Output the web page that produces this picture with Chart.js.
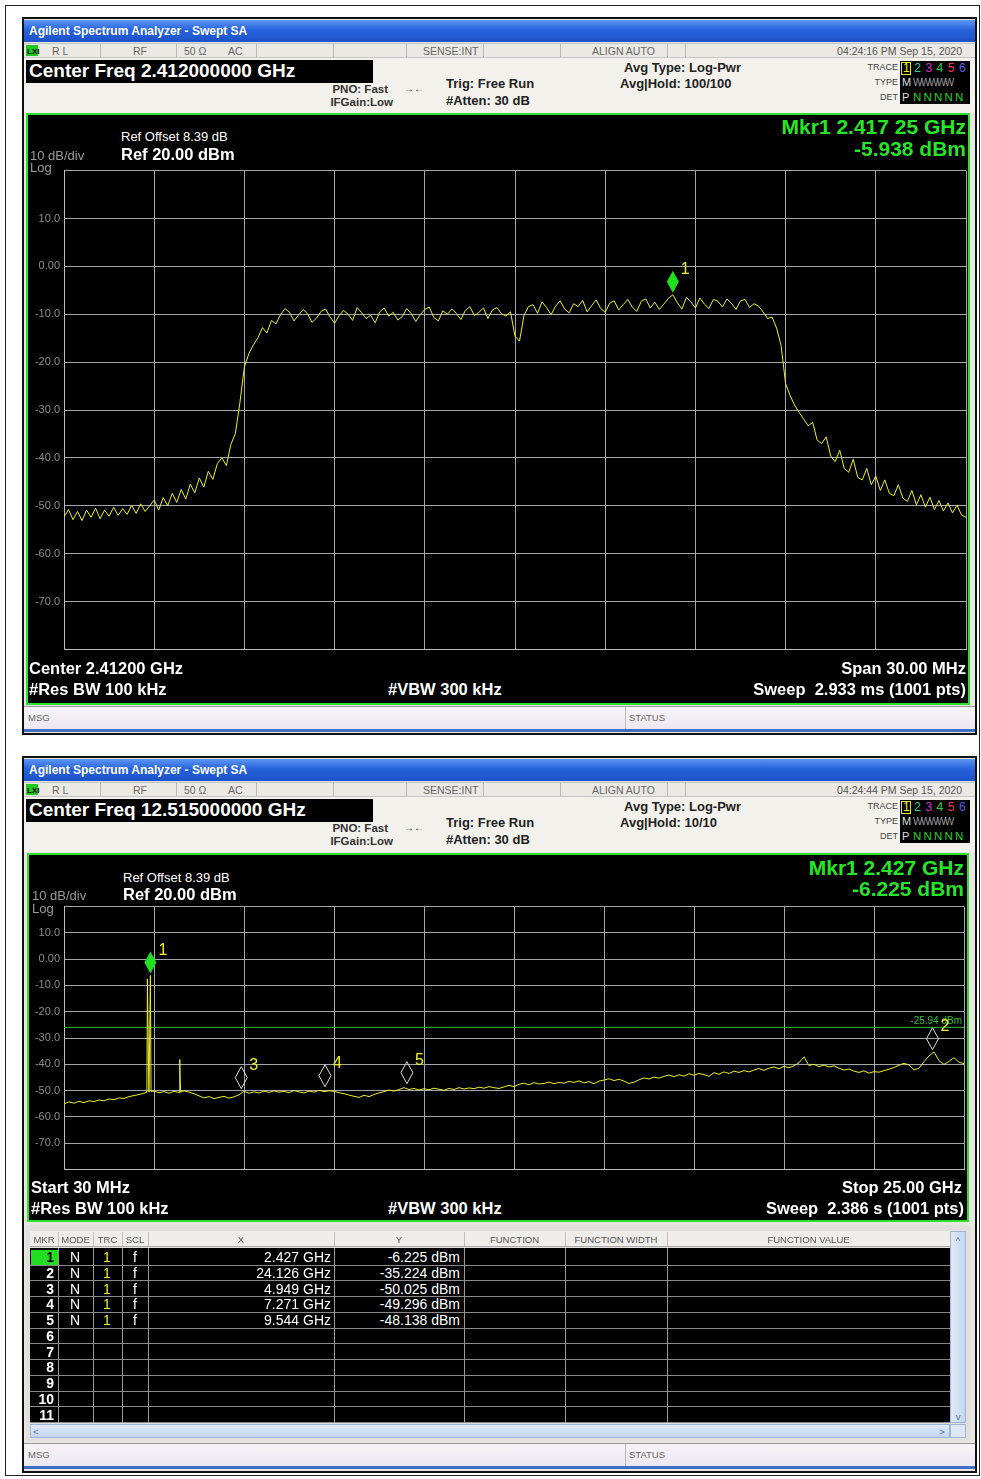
<!DOCTYPE html>
<html>
<head>
<meta charset="utf-8">
<script src="https://cdn.jsdelivr.net/npm/chart.js@4.4.1/dist/chart.umd.min.js"></script>
<style>
body { margin:0; background:#fff; }
#page { position:relative; width:981px; height:1479px; overflow:hidden; font-family:"Liberation Sans Narrow","Arial Narrow","Liberation Sans",sans-serif; }
.abs { position:absolute; white-space:nowrap; box-sizing:border-box; }
.ttl { font-size:12px; font-weight:bold; color:#fff; }
.st { font-size:10.5px; color:#666; }
.cf { font-size:19px; font-weight:bold; color:#fff; }
.inf { font-size:13px; font-weight:bold; color:#222; }
.inf2 { font-size:11.5px; font-weight:bold; color:#333; }
.sm { font-size:9px; color:#444; }
.wt { font-size:13px; color:#fff; }
.wb { font-size:16.5px; font-weight:bold; color:#fff; }
.gy { font-size:13px; color:#9a9a9a; }
.mk { font-size:21px; font-weight:bold; color:#27e627; }
.th { font-size:9.5px; color:#555; }
.tb { font-size:14px; color:#fff; }
canvas { position:absolute; }
</style>
</head>
<body>
<div id="page">
  <div id="bg"></div>
  <canvas id="chart1" width="940" height="500" style="left:28px;top:160px"></canvas>
  <canvas id="chart2" width="940" height="284" style="left:28px;top:896px"></canvas>
</div>
<script>
// y grid labels shared by both screens
var yTicks = [10, 0, -10, -20, -30, -40, -50, -60, -70];
var yTickText = ['10.0', '0.00', '-10.0', '-20.0', '-30.0', '-40.0', '-50.0', '-60.0', '-70.0'];

// screen 1: 2.412 GHz center, 30 MHz span (MHz)
var trace1Start = 2397, trace1Stop = 2427;
var trace1Level = [
  -52.3,-50.8,-52.9,-51.2,-53.1,-50.9,-52.4,-50.5,-52.7,-50.9,-52.2,-50.3,-52.0,-50.6,-51.8,-49.9,-51.6,-49.6,-51.2,-50.0,
  -48.8,-50.9,-48.3,-50.0,-47.4,-49.3,-46.6,-48.6,-45.5,-47.3,-44.2,-46.1,-42.8,-44.5,-41.2,-40.0,-41.6,-37.2,-34.9,-28.5,
  -21.0,-18.2,-16.4,-14.9,-12.8,-13.9,-11.3,-12.0,-10.1,-8.8,-9.6,-11.4,-10.2,-9.0,-9.9,-11.7,-10.8,-9.4,-8.9,-10.6,
  -11.9,-10.3,-9.2,-10.0,-11.3,-8.6,-9.7,-10.9,-10.2,-11.8,-9.5,-8.7,-10.4,-9.6,-11.2,-10.5,-8.8,-9.9,-11.5,-10.1,
  -9.0,-8.5,-10.7,-11.4,-9.3,-10.0,-8.9,-9.8,-11.1,-9.2,-8.4,-10.3,-9.6,-8.7,-10.9,-9.1,-8.6,-9.9,-10.4,-9.5,
  -14.6,-15.6,-10.2,-8.4,-8.0,-9.8,-7.4,-8.6,-10.1,-8.3,-7.2,-8.9,-9.7,-7.8,-8.4,-7.1,-9.5,-8.2,-7.0,-8.8,
  -9.6,-7.7,-7.2,-9.1,-8.0,-6.9,-8.5,-9.4,-7.3,-6.8,-8.7,-7.5,-9.0,-7.9,-6.7,-5.94,-7.6,-8.9,-6.5,-7.4,
  -8.7,-6.6,-7.9,-8.8,-6.9,-7.3,-8.5,-6.8,-7.7,-9.0,-7.2,-6.9,-8.6,-7.8,-8.3,-9.5,-10.9,-10.6,-12.9,-16.5,
  -24.5,-27.0,-29.0,-30.5,-31.9,-33.3,-32.6,-36.3,-37.0,-35.6,-39.6,-40.8,-38.4,-42.2,-43.0,-40.3,-44.1,-44.6,-42.2,-45.6,
  -43.8,-46.8,-44.6,-47.4,-47.9,-45.6,-48.4,-49.1,-46.8,-49.8,-47.7,-50.3,-48.2,-50.8,-48.9,-51.1,-49.4,-51.5,-49.9,-51.9,-52.4
];
var mkr1Freq = [2417.25];
var mkr1Level = [-5.938];

// screen 2: 30 MHz .. 25 GHz (GHz)
var trace2Start = 0.03, trace2Stop = 25;
var trace2Level = [
  -55.0,-54.3,-54.8,-54.1,-54.6,-53.9,-54.2,-53.6,-53.9,-53.2,-53.5,-52.8,-53.0,-52.3,-51.9,-51.5,-51.0,-50.6,-50.2,-50.8,
  -50.4,-51.0,-50.3,-50.7,-50.1,-50.6,-51.2,-52.0,-52.8,-52.3,-53.1,-52.6,-52.2,-52.9,-52.4,-51.6,-50.3,-51.0,-50.5,-50.9,
  -50.2,-50.7,-50.1,-50.6,-50.3,-50.8,-50.0,-50.5,-50.9,-50.2,-50.6,-49.9,-50.4,-50.1,-50.3,-50.8,-51.2,-51.7,-52.2,-52.6,
  -51.8,-52.3,-51.5,-50.9,-50.4,-49.8,-50.2,-49.6,-48.9,-49.6,-49.2,-49.8,-49.3,-49.7,-49.1,-49.5,-49.9,-49.2,-49.6,-48.9,
  -49.4,-49.0,-49.3,-48.7,-49.1,-48.5,-48.9,-49.2,-48.6,-48.0,-48.5,-47.6,-47.2,-47.8,-47.0,-47.5,-47.3,-46.8,-47.4,-46.9,
  -47.2,-46.5,-46.9,-46.3,-47.1,-46.6,-47.4,-46.4,-46.0,-45.5,-46.2,-45.7,-46.4,-47.3,-46.8,-45.9,-45.2,-45.6,-44.9,-45.3,
  -44.6,-44.1,-44.7,-44.0,-44.5,-43.6,-44.2,-43.5,-43.9,-44.6,-43.2,-43.8,-42.9,-43.5,-42.6,-43.1,-42.4,-42.9,-42.2,-41.6,
  -42.3,-41.5,-41.0,-41.7,-40.8,-41.3,-40.6,-39.4,-37.2,-40.5,-40.0,-40.9,-40.3,-41.0,-40.6,-41.5,-42.2,-41.8,-42.6,-43.1,
  -42.5,-43.4,-42.8,-43.0,-42.4,-41.9,-41.2,-40.4,-39.6,-40.3,-42.1,-41.5,-39.0,-36.8,-35.3,-38.6,-40.1,-38.9,-37.5,-39.2,-39.8
];
var spikeFreq = [2.330, 2.344, 2.385, 2.427, 2.445, 3.236, 3.248, 3.262];
var spikeLevel = [-50.6, -7.6, -49.5, -6.225, -50.4, -50.5, -38.2, -50.6];
var displayLine = -25.94;

// marker table (screen 2)
var mkrNum = [1, 2, 3, 4, 5];
var mkrFreq = [2.427, 24.126, 4.949, 7.271, 9.544];
var mkrLevel = [-6.225, -35.224, -50.025, -49.296, -48.138];

var page = document.getElementById('page');
var bg = document.getElementById('bg');

function box(x, y, w, h, css) {
  var d = document.createElement('div');
  d.className = 'abs';
  d.style.cssText = 'left:' + x + 'px;top:' + y + 'px;width:' + w + 'px;height:' + h + 'px;' + (css || '');
  bg.appendChild(d);
  return d;
}
function put(x, y, txt, cls, align, css) {
  var d = document.createElement('div');
  d.className = 'abs ' + (cls || '');
  d.textContent = txt;
  d.style.left = x + 'px';
  d.style.top = y + 'px';
  if (css) d.style.cssText += css;
  d.style.transform = align == 'r' ? 'translate(-100%,-50%)' : align == 'c' ? 'translate(-50%,-50%)' : 'translateY(-50%)';
  page.appendChild(d);
  return d;
}

function chrome(T, h, s) {
  box(22, T, 955, h, 'background:#e8e6e0;border:2px solid #111');
  box(24, T + 3, 951, 22, 'background:linear-gradient(#5d97f4,#2762dc 45%,#1b52c8)');
  put(29, T + 14, 'Agilent Spectrum Analyzer - Swept SA', 'ttl');
  box(24, T + 26, 951, 15, 'background:#ebe9e4;border-top:1px solid #c4c4c4;border-bottom:1px solid #c4c4c4');
  [100, 176, 256, 333, 406, 483, 560, 667, 685].forEach(function(x) {
    box(x, T + 27, 1, 13, 'background:#b8b8b8');
  });
  box(26, T + 28, 12, 11, 'background:#1fc81f');
  put(27, T + 34, 'LXI', 'st', null, 'font-size:8px;color:#000;font-weight:bold');
  put(52, T + 34, 'R L', 'st');
  put(133, T + 34, 'RF', 'st');
  put(184, T + 34, '50 Ω', 'st');
  put(228, T + 34, 'AC', 'st');
  put(423, T + 34, 'SENSE:INT', 'st');
  put(592, T + 34, 'ALIGN AUTO', 'st');
  put(962, T + 34, s.time, 'st', 'r', 'color:#555');
  box(24, T + 41, 951, 55, 'background:#f3f1eb');
  box(26, T + 43, 347, 23, 'background:#000');
  put(29, T + 54, s.cf, 'cf');
  put(388, T + 72, 'PNO: Fast', 'inf2', 'r');
  put(393, T + 85, 'IFGain:Low', 'inf2', 'r');
  put(414, T + 71, '→←', 'inf2', 'c', 'font-size:10px');
  put(446, T + 66, 'Trig: Free Run', 'inf');
  put(446, T + 83, '#Atten: 30 dB', 'inf');
  put(624, T + 50, 'Avg Type: Log-Pwr', 'inf');
  put(620, T + 66, s.avg, 'inf');
  put(898, T + 50, 'TRACE', 'sm', 'r');
  put(898, T + 65, 'TYPE', 'sm', 'r');
  put(898, T + 80, 'DET', 'sm', 'r');
  box(900, T + 44, 70, 43, 'background:#000');
  box(901, T + 45, 10, 13, 'border:1px solid #e6e61e');
  var tcol = ['#f0f020', '#22d6a0', '#d030d0', '#30d040', '#e83a6a', '#5a5ae8'];
  tcol.forEach(function(c, k) { put(903 + k * 11.2, T + 51, String(k + 1), 'inf', null, 'color:' + c + ';font-weight:normal;font-size:12px'); });
  put(902, T + 65, 'M', 'inf', null, 'color:#ddd;font-weight:normal;font-size:11px');
  put(913, T + 65, 'WWWWW', 'sm', null, 'color:#9c9c9c;letter-spacing:-1.5px;font-size:10px');
  put(902, T + 80, 'P', 'inf', null, 'color:#ddd;font-weight:normal;font-size:11px');
  put(913, T + 80, 'N N N N N', 'inf', null, 'color:#25d025;font-weight:normal;font-size:11.5px;letter-spacing:-0.5px');
  // graph panel
  box(s.px, s.py, s.pw, s.ph, 'background:#000;border:2px solid #2ee02e');
  // message bar
  box(24, s.my, 951, 26, 'background:linear-gradient(#f6f3f8,#ece8f0);border-top:1px solid #999;border-bottom:3px solid #3f6fc4');
  box(625, s.my + 1, 1, 22, 'background:#bbb');
  put(28, s.my + 11, 'MSG', 'st', null, 'font-size:9.5px');
  put(629, s.my + 11, 'STATUS', 'st', null, 'font-size:9.5px');
}

box(5, 5, 975, 1471, 'border:1px solid #222');
chrome(17, 718, { time: '04:24:16 PM Sep 15, 2020', cf: 'Center Freq 2.412000000 GHz', avg: 'Avg|Hold: 100/100',
  px: 26, py: 113, pw: 944, ph: 592, my: 706 });
chrome(756, 717, { time: '04:24:44 PM Sep 15, 2020', cf: 'Center Freq 12.515000000 GHz', avg: 'Avg|Hold: 10/10',
  px: 27, py: 853, pw: 942, ph: 369, my: 1443 });

// panel texts screen 1
put(121, 136, 'Ref Offset 8.39 dB', 'wt');
put(121, 154, 'Ref 20.00 dBm', 'wb');
put(30, 155, '10 dB/div', 'gy');
put(30, 167, 'Log', 'gy');
put(966, 127, 'Mkr1 2.417 25 GHz', 'mk', 'r');
put(966, 149, '-5.938 dBm', 'mk', 'r');
put(29, 668, 'Center 2.41200 GHz', 'wb');
put(29, 689, '#Res BW 100 kHz', 'wb');
put(388, 689, '#VBW 300 kHz', 'wb');
put(966, 668, 'Span 30.00 MHz', 'wb', 'r');
put(966, 689, 'Sweep  2.933 ms (1001 pts)', 'wb', 'r', 'white-space:pre');

// panel texts screen 2
put(123, 877, 'Ref Offset 8.39 dB', 'wt');
put(123, 894, 'Ref 20.00 dBm', 'wb');
put(32, 895, '10 dB/div', 'gy');
put(32, 908, 'Log', 'gy');
put(964, 868, 'Mkr1 2.427 GHz', 'mk', 'r');
put(964, 889, '-6.225 dBm', 'mk', 'r');
put(31, 1187, 'Start 30 MHz', 'wb');
put(31, 1208, '#Res BW 100 kHz', 'wb');
put(388, 1208, '#VBW 300 kHz', 'wb');
put(962, 1187, 'Stop 25.00 GHz', 'wb', 'r');
put(964, 1208, 'Sweep  2.386 s (1001 pts)', 'wb', 'r', 'white-space:pre');

// marker table
var cols = [30, 58, 93, 122, 148, 334, 464, 565, 667, 950];
var heads = ['MKR', 'MODE', 'TRC', 'SCL', 'X', 'Y', 'FUNCTION', 'FUNCTION WIDTH', 'FUNCTION VALUE'];
box(26, 1225, 944, 216, 'background:#e2e0dc');
box(30, 1231, 920, 16, 'background:#efede9;border-bottom:1px solid #aaa');
heads.forEach(function(hd, k) {
  put((cols[k] + cols[k + 1]) / 2, 1239, hd, 'th', 'c');
  if (k > 0) box(cols[k], 1232, 1, 14, 'background:#c0c0c0');
});
box(30, 1248, 920, 175, 'background:#000');
for (var r = 0; r < 11; r++) {
  var yc = 1257 + r * 15.75;
  box(30, Math.round(yc + 7.5), 920, 1, 'background:#8a8a8a');
  if (r == 0) box(31, Math.round(yc - 7), 27, 15, 'background:#22dd22');
  put(54, yc, String(r + 1), 'tb', 'r', 'font-weight:bold;' + (r == 0 ? 'color:#000' : ''));
  if (r < mkrNum.length) {
    put(75, yc, 'N', 'tb', 'c');
    put(107, yc, '1', 'tb', 'c', 'color:#f0f020');
    put(135, yc, 'f', 'tb', 'c');
    put(331, yc, mkrFreq[r].toFixed(3) + ' GHz', 'tb', 'r');
    put(460, yc, mkrLevel[r].toFixed(3) + ' dBm', 'tb', 'r');
  }
}
cols.slice(1, 9).forEach(function(x) { box(x, 1248, 1, 175, 'background:#9a9a9a'); });
box(950, 1231, 16, 192, 'background:linear-gradient(90deg,#dfe9f7,#c3d6f0);border:1px solid #9fb6da');
box(30, 1424, 920, 14, 'background:linear-gradient(#dfe9f7,#c3d6f0);border:1px solid #9fb6da');
box(950, 1424, 16, 14, 'background:#dde7f5;border:1px solid #9fb6da');
put(958, 1240, '^', 'th', 'c', 'color:#4a6fb0');
put(958, 1416, 'v', 'th', 'c', 'color:#4a6fb0');
put(36, 1431, '<', 'th', 'c', 'color:#4a6fb0');
put(942, 1431, '>', 'th', 'c', 'color:#4a6fb0');

// markers + display line label, placed through the chart scales
var markerPlugin = {
  id: 'markers',
  afterDatasetsDraw: function(chart, args, opts) {
    var ctx = chart.ctx, xs = chart.scales.x, ys = chart.scales.y;
    if (opts.line != null) {
      ctx.save();
      ctx.fillStyle = '#30c030';
      ctx.font = '10px "Liberation Sans Narrow", sans-serif';
      ctx.textAlign = 'right';
      ctx.textBaseline = 'bottom';
      ctx.fillText(opts.line.toFixed(2) + ' dBm', chart.chartArea.right - 2, ys.getPixelForValue(opts.line) - 1);
      ctx.restore();
    }
    (opts.list || []).forEach(function(m) {
      var px = xs.getPixelForValue(m.f), py = ys.getPixelForValue(m.lvl) - 2;
      ctx.save();
      ctx.beginPath();
      ctx.moveTo(px, py);
      ctx.lineTo(px + 6, py - 11);
      ctx.lineTo(px, py - 22);
      ctx.lineTo(px - 6, py - 11);
      ctx.closePath();
      if (m.n == 1) {
        ctx.fillStyle = '#1fe01f';
        ctx.fill();
      } else {
        ctx.strokeStyle = '#dcdcdc';
        ctx.lineWidth = 1;
        ctx.stroke();
      }
      ctx.fillStyle = '#eeee22';
      ctx.font = '16px "Liberation Sans Narrow", sans-serif';
      ctx.textBaseline = 'middle';
      ctx.fillText(String(m.n), px + 8, py - 23);
      ctx.restore();
    });
  }
};

function gridAxes(xMin, xMax) {
  return {
    x: {
      type: 'linear', min: xMin, max: xMax,
      afterBuildTicks: function(s) {
        var t = [];
        for (var k = 0; k <= 10; k++) t.push({ value: s.min + (s.max - s.min) * k / 10 });
        s.ticks = t;
      },
      afterFit: function(s) { s.height = 0; },
      ticks: { display: false },
      grid: { color: '#a6a6a6', drawTicks: false, lineWidth: 1 },
      border: { color: '#bdbdbd', width: 1 }
    },
    y: {
      min: -80, max: 20,
      afterFit: function(s) { s.width = 36; },
      ticks: {
        stepSize: 10, padding: 4, color: '#8d8d8d',
        font: { family: '"Liberation Sans Narrow", sans-serif', size: 11 },
        callback: function(v) { var k = yTicks.indexOf(v); return k < 0 ? '' : yTickText[k]; }
      },
      grid: { color: '#a6a6a6', drawTicks: false, lineWidth: 1 },
      border: { color: '#bdbdbd', width: 1 }
    }
  };
}

var step1 = (trace1Stop - trace1Start) / (trace1Level.length - 1);
var pts1 = trace1Level.map(function(v, i) { return { x: trace1Start + i * step1, y: v }; });

new Chart(document.getElementById('chart1'), {
  type: 'line',
  data: { datasets: [{ data: pts1, borderColor: '#eded2a', borderWidth: 1, pointRadius: 0, tension: 0 }] },
  options: {
    responsive: false, animation: false, devicePixelRatio: 1,
    layout: { padding: { top: 8, right: 2, bottom: 5, left: 0 } },
    scales: gridAxes(trace1Start, trace1Stop),
    plugins: {
      legend: { display: false }, tooltip: { enabled: false },
      markers: { list: mkr1Freq.map(function(f, k) { return { n: k + 1, f: f, lvl: mkr1Level[k] }; }) }
    }
  },
  plugins: [markerPlugin]
});

var step2 = (trace2Stop - trace2Start) / (trace2Level.length - 1);
var pts2 = trace2Level.map(function(v, i) { return { x: trace2Start + i * step2, y: v }; });
spikeFreq.forEach(function(f, k) { pts2.push({ x: f, y: spikeLevel[k] }); });
pts2.sort(function(a, b) { return a.x - b.x; });

new Chart(document.getElementById('chart2'), {
  type: 'line',
  data: {
    datasets: [
      { data: pts2, borderColor: '#eded2a', borderWidth: 1, pointRadius: 0, tension: 0 },
      { data: [{ x: trace2Start, y: displayLine }, { x: trace2Stop, y: displayLine }], borderColor: '#2cc02c', borderWidth: 1, pointRadius: 0 }
    ]
  },
  options: {
    responsive: false, animation: false, devicePixelRatio: 1,
    layout: { padding: { top: 8, right: 4, bottom: 5, left: 0 } },
    scales: gridAxes(trace2Start, trace2Stop),
    plugins: {
      legend: { display: false }, tooltip: { enabled: false },
      markers: { line: displayLine, list: mkrNum.map(function(n, k) { return { n: n, f: mkrFreq[k], lvl: mkrLevel[k] }; }) }
    }
  },
  plugins: [markerPlugin]
});
</script>
</body>
</html>
